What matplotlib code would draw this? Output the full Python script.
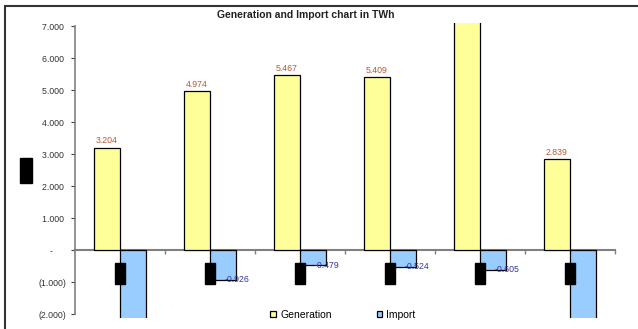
import numpy as np
import matplotlib
matplotlib.use("Agg")
import matplotlib.pyplot as plt
from matplotlib.patches import Rectangle
from matplotlib.ticker import FuncFormatter

plt.rcParams['font.family'] = ['Liberation Sans', 'DejaVu Sans']

# yearly values in TWh (thousands shown with '.' separator)
years = ["2003", "2004", "2005", "2006", "2007", "2008"]
generation = [3.204, 4.974, 5.467, 5.409, 7.9, 2.839]
imports = [-2.6, -0.926, -0.479, -0.524, -0.605, -2.7]
yticks = [-2, -1, 0, 1, 2, 3, 4, 5, 6, 7]

YMIN, YMAX = -2.12, 7.1

def acct(v, pos=None):
    if abs(v) < 1e-9:
        return "-      "
    s = f"{abs(v):,.3f}".replace(",", "")
    return f"({s})" if v < 0 else s + " "

fig = plt.figure(figsize=(6.38, 3.29), dpi=100)
ax = fig.add_axes([75/638, 11/329, 540/638, 295/329])

x = np.arange(len(years)) + 0.5
w = 0.29
ax.bar(x - w/2, generation, w, color="#FFFF99", edgecolor="black", linewidth=0.9,
       label="Generation", zorder=2)
ax.bar(x + w/2, imports, w, color="#99CCFF", edgecolor="black", linewidth=0.9,
       label="Import", zorder=2)

# value labels, only for bars that end inside the plot
for xi, v in zip(x, generation):
    if v < YMAX:
        ax.annotate(f"{v:.3f}", (xi - w/2, v), xytext=(0, 5), textcoords="offset points",
                    ha="center", va="center", fontsize=6.3, color="#B85A32", zorder=3)
for xi, v in zip(x, imports):
    if v > YMIN:
        ax.annotate(f"{v:.3f}", (xi + w/2, v), xytext=(10, 0), textcoords="offset points",
                    ha="center", va="center", fontsize=6.3, color="#3333A0", zorder=3)

# category labels drawn as solid blocks
for xi in x:
    ax.add_patch(Rectangle((xi - 0.06, -1.06), 0.12, 0.65, color="black", zorder=4,
                           clip_on=False))

ax.set_xlim(0, 6)
ax.set_ylim(YMIN, YMAX)
ax.set_yticks(yticks)
ax.yaxis.set_major_formatter(FuncFormatter(acct))
ax.set_xticks(np.arange(1, 7))
ax.set_xticklabels([])
ax.tick_params(axis="x", direction="out", length=3, color="#808080", width=1)
ax.tick_params(axis="y", direction="out", length=3, color="#404040", width=0.8,
               labelsize=6.3, labelcolor="#333333", pad=3)

for s in ["top", "right"]:
    ax.spines[s].set_visible(False)
ax.spines["bottom"].set_position(("data", 0))
ax.spines["bottom"].set_color("#808080")
ax.spines["bottom"].set_linewidth(1.5)
ax.spines["bottom"].set_zorder(1)
ax.spines["left"].set_bounds(-2, 7)
ax.spines["left"].set_color("#808080")
ax.spines["left"].set_linewidth(1.2)

fig.text(306/638, 1 - 15/329, "Generation and Import chart in TWh", ha="center",
         va="center", fontsize=7.5, fontweight="bold", color="#222222")

fig.legend(loc="center", bbox_to_anchor=(343/638, 1 - 315/329), ncol=2, frameon=False,
           fontsize=7.5, handlelength=0.55, handleheight=0.55, columnspacing=4.3,
           handletextpad=0.4)

# outer chart frame and axis title block
fig.patches.append(Rectangle((5/638, -0.05), 1.1, 1 - 6/329 + 0.05, transform=fig.transFigure,
                             fill=False, edgecolor="#333333", linewidth=1.5))
fig.patches.append(Rectangle((20/638, 1 - 183/329), 12/638, 25/329, transform=fig.transFigure,
                             color="black"))

fig.savefig("out.png", dpi=100)
